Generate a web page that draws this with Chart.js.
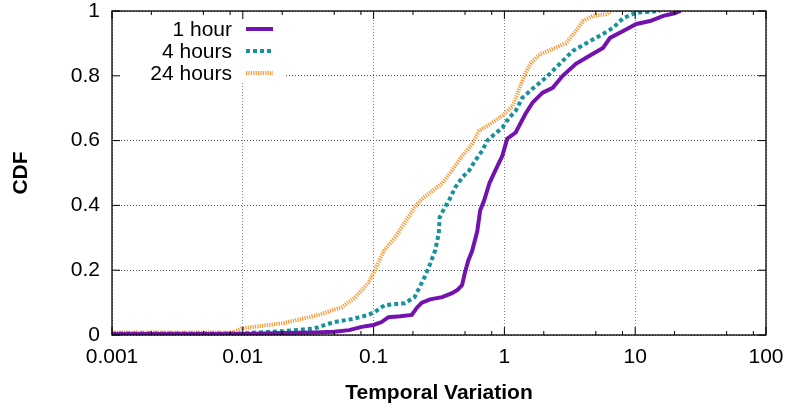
<!DOCTYPE html>
<html>
<head>
<meta charset="utf-8">
<title>Temporal Variation CDF</title>
<script src="https://cdn.jsdelivr.net/npm/chart.js@4"></script>
<style>
  html, body { margin: 0; padding: 0; background: #fff; }
  #wrap { width: 786px; height: 406px; position: relative; }
</style>
</head>
<body>
<div id="wrap"><canvas id="cdf-chart"></canvas></div>
<script>
// ── Data ──
const SERIES_LABELS = ['1 hour', '4 hours', '24 hours'];

const HOUR1_X = [0.001, 0.01, 0.02, 0.035, 0.05, 0.065, 0.081, 0.1, 0.115, 0.13, 0.16, 0.196, 0.215, 0.234, 0.27, 0.334, 0.398, 0.44, 0.475, 0.5, 0.53, 0.567, 0.62, 0.653, 0.7, 0.767, 0.853, 0.966, 1.05, 1.22, 1.45, 1.64, 1.96, 2.34, 2.79, 3.52, 4.75, 5.67, 6.42, 8.09, 10.2, 13.0, 16.4, 20, 22.2];
const HOUR1_Y = [0.003, 0.003, 0.006, 0.008, 0.01, 0.015, 0.025, 0.031, 0.04, 0.055, 0.058, 0.062, 0.085, 0.1, 0.11, 0.117, 0.129, 0.14, 0.154, 0.194, 0.23, 0.26, 0.32, 0.385, 0.415, 0.468, 0.508, 0.554, 0.606, 0.625, 0.683, 0.717, 0.748, 0.763, 0.8, 0.837, 0.868, 0.886, 0.917, 0.938, 0.96, 0.969, 0.985, 0.993, 1.0];

const HOUR4_X = [0.001, 0.0097, 0.0206, 0.035, 0.05, 0.07, 0.091, 0.102, 0.121, 0.15, 0.173, 0.206, 0.225, 0.245, 0.268, 0.295, 0.315, 0.32, 0.35, 0.377, 0.42, 0.475, 0.538, 0.598, 0.677, 0.74, 0.853, 0.966, 1.09, 1.22, 1.37, 1.64, 2.07, 2.65, 3.34, 4.2, 5.67, 6.77, 8.09, 10.2, 15.5];
const HOUR4_Y = [0.005, 0.005, 0.012, 0.02, 0.04, 0.05, 0.062, 0.071, 0.092, 0.096, 0.098, 0.117, 0.148, 0.178, 0.215, 0.26, 0.313, 0.363, 0.394, 0.415, 0.455, 0.486, 0.508, 0.538, 0.569, 0.6, 0.622, 0.64, 0.671, 0.692, 0.732, 0.76, 0.794, 0.837, 0.877, 0.9, 0.929, 0.948, 0.978, 0.995, 1.0];

const HOUR24_X = [0.001, 0.0085, 0.0097, 0.0206, 0.038, 0.057, 0.071, 0.091, 0.102, 0.12, 0.145, 0.164, 0.206, 0.234, 0.334, 0.398, 0.46, 0.567, 0.64, 0.767, 0.966, 1.15, 1.3, 1.45, 1.6, 1.86, 2.34, 2.94, 3.52, 3.98, 4.75, 5.98, 6.6];
const HOUR24_Y = [0.008, 0.008, 0.02, 0.037, 0.062, 0.086, 0.113, 0.16, 0.2, 0.26, 0.3, 0.332, 0.394, 0.42, 0.468, 0.508, 0.545, 0.59, 0.63, 0.65, 0.677, 0.705, 0.76, 0.81, 0.84, 0.866, 0.883, 0.9, 0.938, 0.969, 0.985, 0.99, 1.0];

const X_TICKS = [0.001, 0.01, 0.1, 1, 10, 100];
const X_TICK_LABELS = ['0.001', '0.01', '0.1', '1', '10', '100'];
const Y_TICKS = [0, 0.2, 0.4, 0.6, 0.8, 1];
const Y_TICK_LABELS = ['0', '0.2', '0.4', '0.6', '0.8', '1'];
const MINOR_STEPS = [2, 5, 8];

// ── Styles ──
const FONT = '"Liberation Sans", Arial, Helvetica, sans-serif';
const COLORS = ['#7412b0', '#16929b', '#ff9633'];
const DASHES = [[], [4, 3], [1.2, 1.2]];

function toPoints(xs, ys) {
  return xs.map((x, i) => ({ x, y: ys[i] }));
}

const datasets = [
  toPoints(HOUR1_X, HOUR1_Y),
  toPoints(HOUR4_X, HOUR4_Y),
  toPoints(HOUR24_X, HOUR24_Y),
].map((data, i) => ({
  label: SERIES_LABELS[i],
  data,
  borderColor: COLORS[i],
  backgroundColor: COLORS[i],
  borderWidth: 4,
  borderDash: DASHES[i],
  pointRadius: 0,
  fill: false,
  tension: 0,
}));

// ── Gnuplot-like frame, inward ticks and key ──
const gnuplotFrame = {
  id: 'gnuplotFrame',
  afterDatasetsDraw(chart) {
    const { ctx, chartArea: a, scales } = chart;
    const xs = scales.x, ys = scales.y;
    ctx.save();

    // key background
    ctx.fillStyle = '#fff';
    ctx.fillRect(a.left + 1, a.top + 1, 172, 71);

    // border
    ctx.strokeStyle = '#000';
    ctx.lineWidth = 1.3;
    ctx.setLineDash([]);
    ctx.strokeRect(a.left, a.top, a.right - a.left, a.bottom - a.top);

    // ticks
    ctx.lineWidth = 1;
    ctx.beginPath();
    X_TICKS.forEach((d, k) => {
      const px = xs.getPixelForValue(d);
      ctx.moveTo(px, a.bottom); ctx.lineTo(px, a.bottom - 8);
      ctx.moveTo(px, a.top); ctx.lineTo(px, a.top + 8);
      if (k === X_TICKS.length - 1) return;
      MINOR_STEPS.forEach(m => {
        const mx = xs.getPixelForValue(d * m);
        ctx.moveTo(mx, a.bottom); ctx.lineTo(mx, a.bottom - 4);
        ctx.moveTo(mx, a.top); ctx.lineTo(mx, a.top + 4);
      });
    });
    Y_TICKS.forEach(v => {
      const py = ys.getPixelForValue(v);
      ctx.moveTo(a.left, py); ctx.lineTo(a.left + 8, py);
      ctx.moveTo(a.right, py); ctx.lineTo(a.right - 8, py);
    });
    ctx.stroke();

    // key
    ctx.font = '21px ' + FONT;
    ctx.textAlign = 'right';
    ctx.textBaseline = 'middle';
    chart.data.datasets.forEach((ds, i) => {
      const y = a.top + 18 + i * 22;
      ctx.fillStyle = '#000';
      ctx.fillText(ds.label, a.left + 120, y + 1);
      ctx.strokeStyle = ds.borderColor;
      ctx.lineWidth = ds.borderWidth;
      ctx.setLineDash(ds.borderDash);
      ctx.beginPath();
      ctx.moveTo(a.left + 134, y);
      ctx.lineTo(a.left + 161, y);
      ctx.stroke();
    });
    ctx.restore();
  }
};

// ── Chart ──
new Chart(document.getElementById('cdf-chart'), {
  type: 'line',
  data: { datasets },
  options: {
    responsive: true,
    maintainAspectRatio: false,
    animation: false,
    layout: { padding: { top: 11, right: 20, left: 0, bottom: 0 } },
    plugins: {
      legend: { display: false },
      tooltip: { enabled: false },
    },
    scales: {
      x: {
        type: 'logarithmic',
        min: 0.001,
        max: 100,
        afterBuildTicks: s => { s.ticks = X_TICKS.map(v => ({ value: v })); },
        afterFit: s => { s.height = 71; s.paddingLeft = 0; s.paddingRight = 0; },
        ticks: {
          callback: (v, i) => X_TICK_LABELS[i],
          font: { family: FONT, size: 21 },
          color: '#000',
          padding: 10,
          maxRotation: 0,
          autoSkip: false,
        },
        grid: { color: '#888', lineWidth: 1, drawTicks: false },
        border: { display: false, dash: [1, 2] },
        title: {
          display: true,
          text: 'Temporal Variation',
          font: { family: FONT, size: 21, weight: 'bold' },
          color: '#000',
          padding: { top: 0, bottom: 0 },
        },
      },
      y: {
        min: 0,
        max: 1,
        afterBuildTicks: s => { s.ticks = Y_TICKS.map(v => ({ value: v })); },
        afterFit: s => { s.width = 112; s.paddingTop = 0; s.paddingBottom = 0; },
        ticks: {
          callback: (v, i) => Y_TICK_LABELS[i],
          font: { family: FONT, size: 21 },
          color: '#000',
          padding: 12,
        },
        grid: { color: '#555', lineWidth: 1, drawTicks: false },
        border: { display: false, dash: [1, 2] },
        title: {
          display: true,
          text: 'CDF',
          font: { family: FONT, size: 21, weight: 'bold' },
          color: '#000',
          padding: { top: 9, bottom: 0 },
        },
      },
    },
  },
  plugins: [gnuplotFrame],
});
</script>
</body>
</html>
